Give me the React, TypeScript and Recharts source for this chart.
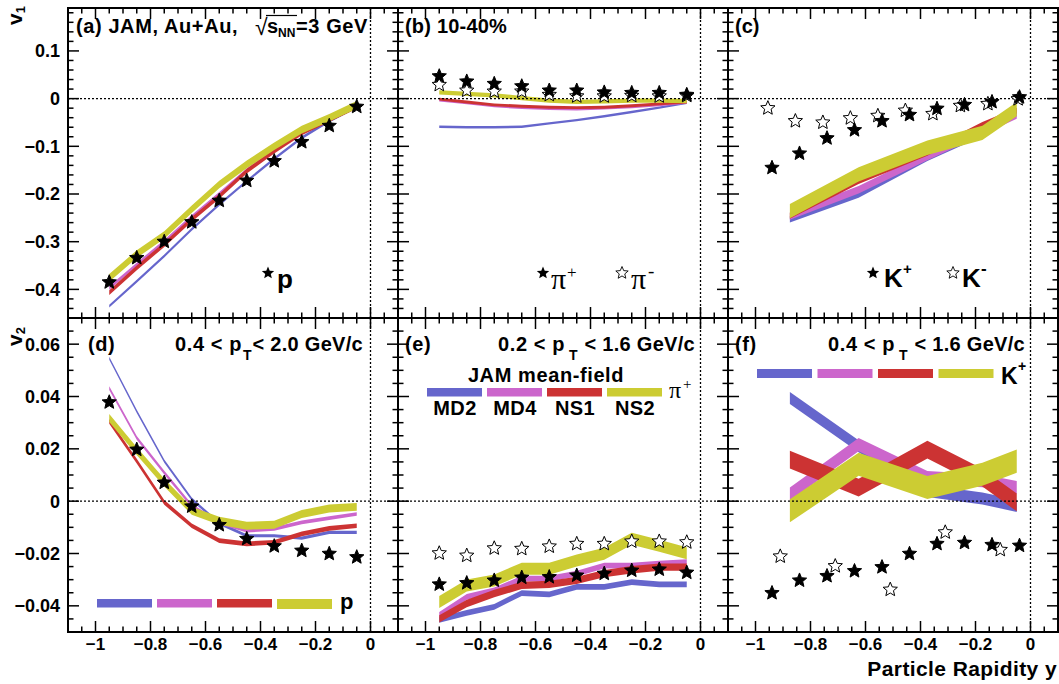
import React from 'react';
import { ComposedChart, Area, Scatter, XAxis, YAxis, ReferenceLine, ReferenceArea } from 'recharts';

// ---------- data ----------
const rapidityBins = [-0.95, -0.85, -0.75, -0.65, -0.55, -0.45, -0.35, -0.25, -0.15, -0.05];
const kaonPlusBins = [-0.94, -0.84, -0.74, -0.64, -0.54, -0.44, -0.34, -0.24, -0.14, -0.04];
const kaonMinusBinsV1 = [-0.955, -0.855, -0.755, -0.655, -0.555, -0.455, -0.355, -0.255, -0.155, -0.045];
const kaonMinusBinsV2 = [-0.91, -0.71, -0.51, -0.31, -0.11];
const kaonModelBins = [-0.875, -0.625, -0.375, -0.175, -0.05];

const modelNames = ['MD2', 'MD4', 'NS1', 'NS2'];
const modelColors = ['#6666cc', '#cc66cc', '#cc3333', '#cccc33'];

// (a) proton v1
const protonV1 = [-0.385, -0.334, -0.300, -0.259, -0.214, -0.172, -0.131, -0.091, -0.057, -0.017];
const aMD2 = [-0.435, -0.383, -0.330, -0.274, -0.222, -0.173, -0.126, -0.082, -0.047, -0.017];
const aMD4 = [-0.397, -0.348, -0.300, -0.248, -0.200, -0.150, -0.108, -0.070, -0.042, -0.015];
const aNS1 = [-0.407, -0.355, -0.306, -0.253, -0.205, -0.152, -0.110, -0.072, -0.044, -0.016];
const aNS2 = [-0.376, -0.326, -0.286, -0.232, -0.180, -0.138, -0.100, -0.065, -0.040, -0.013];
const aBand = [0.003, 0.004, 0.005, 0.008];

// (b) pion v1
const piPlusV1 = [0.047, 0.036, 0.031, 0.026, 0.017, 0.017, 0.013, 0.012, 0.012, 0.008];
const piMinusV1 = [0.029, 0.017, 0.015, 0.015, 0.008, 0.005, 0.005, 0.006, 0.005, 0.006];
const bMD2 = [-0.059, -0.060, -0.060, -0.059, -0.052, -0.045, -0.037, -0.028, -0.019, -0.009];
const bMD4 = [-0.003, -0.009, -0.015, -0.019, -0.021, -0.022, -0.020, -0.017, -0.013, -0.008];
const bNS1 = [-0.001, -0.007, -0.013, -0.016, -0.018, -0.019, -0.018, -0.015, -0.011, -0.007];
const bNS2 = [0.013, 0.010, 0.007, 0.001, -0.004, -0.007, -0.006, -0.004, -0.004, -0.005];
const bBand = [0.0025, 0.003, 0.003, 0.0045];

// (c) kaon v1
const kPlusV1 = [-0.145, -0.115, -0.083, -0.066, -0.047, -0.034, -0.021, -0.013, -0.007, 0.003];
const kMinusV1 = [-0.020, -0.047, -0.050, -0.041, -0.036, -0.025, -0.032, -0.015, -0.011, -0.001];
const cMD2 = [-0.253, -0.201, -0.124, -0.072, -0.030];
const cMD4 = [-0.246, -0.191, -0.121, -0.068, -0.034];
const cNS1 = [-0.246, -0.173, -0.114, -0.055, -0.025];
const cNS2 = [-0.236, -0.159, -0.103, -0.072, -0.022];
const cBand = [0.007, 0.008, 0.006, 0.015];

// (d) proton v2
const protonV2 = [0.0378, 0.0197, 0.0071, -0.0020, -0.0091, -0.0144, -0.0172, -0.0189, -0.0201, -0.0214];
const dMD2 = [0.0546, 0.0343, 0.0153, 0.0008, -0.0085, -0.0132, -0.0132, -0.0141, -0.0119, -0.0119];
const dMD4 = [0.0432, 0.0242, 0.0109, -0.0018, -0.0081, -0.0113, -0.0106, -0.0081, -0.0065, -0.0049];
const dNS1 = [0.0305, 0.0153, -0.0005, -0.0094, -0.0151, -0.0163, -0.0157, -0.0125, -0.0104, -0.0094];
const dNS2 = [0.0318, 0.0191, 0.0071, -0.0037, -0.0075, -0.0094, -0.0090, -0.0049, -0.0028, -0.0022];
const dBand = [0.0006, 0.0007, 0.0009, 0.0015];

// (e) pion v2
const piPlusV2 = [-0.0318, -0.0313, -0.0303, -0.0292, -0.0290, -0.0284, -0.0277, -0.0265, -0.0261, -0.0273];
const piMinusV2 = [-0.0199, -0.0208, -0.0180, -0.0182, -0.0173, -0.0163, -0.0163, -0.0154, -0.0154, -0.0157];
const eMD2 = [-0.0454, -0.0427, -0.0404, -0.0351, -0.0356, -0.0328, -0.0328, -0.0309, -0.0318, -0.0318];
const eMD4 = [-0.0435, -0.0366, -0.0341, -0.0296, -0.0296, -0.0277, -0.0246, -0.0246, -0.0239, -0.0233];
const eNS1 = [-0.0450, -0.0391, -0.0353, -0.0322, -0.0318, -0.0303, -0.0277, -0.0262, -0.0252, -0.0252];
const eNS2 = [-0.0385, -0.0322, -0.0303, -0.0258, -0.0258, -0.0227, -0.0201, -0.0144, -0.0170, -0.0199];
const eBand = [0.0011, 0.0011, 0.0014, 0.0023];

// (f) kaon v2
const kPlusV2 = [-0.0351, -0.0303, -0.0286, -0.0267, -0.0252, -0.0201, -0.0163, -0.0159, -0.0167, -0.0170];
const kMinusV2 = [-0.0211, -0.0248, -0.0338, -0.0119, -0.0186];
const fMD2 = [0.0394, 0.0210, 0.0039, 0.0010, -0.0018];
const fMD4 = [0.0027, 0.0216, 0.0090, 0.0078, 0.0052];
const fNS1 = [0.0159, 0.0052, 0.0197, 0.0090, -0.0005];
const fNS2 = [-0.0037, 0.0141, 0.0052, 0.0103, 0.0153];
const fBand = [0.0023, 0.0025, 0.0034, 0.0044];

// ticks
const xTicks = [-1.05, -1, -0.95, -0.9, -0.85, -0.8, -0.75, -0.7, -0.65, -0.6, -0.55, -0.5, -0.45, -0.4, -0.35, -0.3, -0.25, -0.2, -0.15, -0.1, -0.05, 0, 0.05];
const v1Ticks = [0.18, 0.16, 0.14, 0.12, 0.1, 0.08, 0.06, 0.04, 0.02, 0, -0.02, -0.04, -0.06, -0.08, -0.1, -0.12, -0.14, -0.16, -0.18, -0.2, -0.22, -0.24, -0.26, -0.28, -0.3, -0.32, -0.34, -0.36, -0.38, -0.4, -0.42, -0.44];
const v2Ticks = [0.065, 0.06, 0.055, 0.05, 0.045, 0.04, 0.035, 0.03, 0.025, 0.02, 0.015, 0.01, 0.005, 0, -0.005, -0.01, -0.015, -0.02, -0.025, -0.03, -0.035, -0.04, -0.045];
const xDomain = [-1.1, 0.1];
const v1Domain = [-0.46, 0.19];
const v2Domain = [-0.05, 0.07];

// ---------- helpers ----------
const FONT = '"Liberation Sans", Arial, Helvetica, sans-serif';
const SERIF = '"Liberation Serif", "Times New Roman", serif';
const PW = 330;

function starPath(cx: number, cy: number, R: number) {
  const r = R * 0.45;
  let d = '';
  for (let i = 0; i < 10; i++) {
    const a = -Math.PI / 2 + (i * Math.PI) / 5;
    const rad = i % 2 === 0 ? R : r;
    d += (i === 0 ? 'M' : 'L') + (cx + rad * Math.cos(a)).toFixed(2) + ',' + (cy + rad * Math.sin(a)).toFixed(2);
  }
  return d + 'Z';
}

const isMajor = (v: number, step: number) => Math.abs(v / step - Math.round(v / step)) < 1e-6;
const fmt = (v: number, digits: number) => {
  if (Math.abs(v) < 1e-9) return '0';
  const s = digits < 0 ? String(Math.abs(Number(v.toFixed(2)))) : Math.abs(v).toFixed(digits);
  return (v < 0 ? '\u2212' : '') + s;
};

const makeXTick = (plotH: number, showLabels: boolean) => (props: any) => {
  const { x, y, payload } = props;
  const v = payload.value;
  const maj = isMajor(v, 0.2);
  const len = maj ? 11 : 5.5;
  return (
    <g>
      <line x1={x} x2={x} y1={y} y2={y - len} stroke="#000" strokeWidth={1.5} />
      <line x1={x} x2={x} y1={y - plotH} y2={y - plotH + len} stroke="#000" strokeWidth={1.5} />
      {showLabels && maj ? (
        <text x={x} y={y + 18} textAnchor="middle" fontFamily={FONT} fontWeight="bold" fontSize={17} fill="#000">
          {fmt(v, -1)}
        </text>
      ) : null}
    </g>
  );
};

const makeYTick = (step: number, digits: number, showLabels: boolean) => (props: any) => {
  const { x, y, payload } = props;
  const v = payload.value;
  const maj = isMajor(v, step);
  const len = maj ? 11 : 5.5;
  return (
    <g>
      <line x1={x} x2={x + len} y1={y} y2={y} stroke="#000" strokeWidth={1.5} />
      <line x1={x + PW} x2={x + PW - len} y1={y} y2={y} stroke="#000" strokeWidth={1.5} />
      {showLabels && maj ? (
        <text x={x - 8} y={y} dy="0.36em" textAnchor="end" fontFamily={FONT} fontWeight="bold" fontSize={18} fill="#000">
          {fmt(v, digits)}
        </text>
      ) : null}
    </g>
  );
};

type StarSet = { xs: number[]; ys: number[]; open: boolean };

type PanelProps = {
  left: number;
  top: number;
  h: number;
  yDomain: number[];
  yTicks: number[];
  yStep: number;
  yDigits: number;
  showY: boolean;
  showX: boolean;
  bins: number[];
  models: number[][];
  band: number[];
  stars: StarSet[];
};

function Panel(p: PanelProps) {
  const table = p.bins.map((x, i) => {
    const row: any = { x };
    modelNames.forEach((m, k) => {
      row[m] = [p.models[k][i] - p.band[k], p.models[k][i] + p.band[k]];
    });
    return row;
  });
  return (
    <div style={{ position: 'absolute', left: p.left - 60, top: p.top - 10 }}>
      <ComposedChart width={400} height={p.h + 50} data={table} margin={{ top: 10, right: 10, left: 0, bottom: 0 }}>
        <XAxis
          type="number"
          dataKey="x"
          domain={xDomain}
          allowDataOverflow
          ticks={xTicks}
          interval={0}
          tickSize={0}
          tickMargin={0}
          axisLine={false}
          tickLine={false}
          height={40}
          tick={makeXTick(p.h, p.showX)}
        />
        <YAxis
          type="number"
          domain={p.yDomain}
          allowDataOverflow
          ticks={p.yTicks}
          interval={0}
          tickSize={0}
          tickMargin={0}
          axisLine={false}
          tickLine={false}
          width={60}
          tick={makeYTick(p.yStep, p.yDigits, p.showY)}
        />
        <ReferenceLine y={0} stroke="#000" strokeWidth={1.3} strokeDasharray="2 2" />
        <ReferenceLine x={0} stroke="#000" strokeWidth={1.3} strokeDasharray="2 2" />
        {modelNames.map((m, k) => (
          <Area
            key={m}
            type="linear"
            dataKey={m}
            stroke="none"
            fill={modelColors[k]}
            fillOpacity={1}
            dot={false}
            activeDot={false}
            isAnimationActive={false}
          />
        ))}
        {p.stars.map((s, k) => (
          <Scatter
            key={'s' + k}
            data={s.xs.map((x, i) => ({ x, y: s.ys[i] }))}
            dataKey="y"
            isAnimationActive={false}
            shape={(sp: any) => (
              <path d={starPath(sp.cx, sp.cy, 7.5)} fill={s.open ? '#fff' : '#000'} stroke="#000" strokeWidth={1} />
            )}
          />
        ))}
        <ReferenceArea x1={xDomain[0]} x2={xDomain[1]} y1={p.yDomain[0]} y2={p.yDomain[1]} fill="none" fillOpacity={0} stroke="#000" strokeWidth={2} />
      </ComposedChart>
    </div>
  );
}

const T = (props: any) => (
  <text fontFamily={FONT} fontWeight="bold" fill="#000" {...props} />
);

function Overlay() {
  const legendBar = (x: number, y: number, w: number, h: number, c: string, key: string) => (
    <rect key={key} x={x} y={y} width={w} height={h} fill={c} />
  );
  const LS = 0.6;
  return (
    <svg width={1059} height={684} style={{ position: 'absolute', left: 0, top: 0, pointerEvents: 'none' }}>
      {/* axis titles */}
      <T transform="translate(22,25) rotate(-90)" fontSize={21}>
        v<tspan fontSize={13} dy={3}>1</tspan>
      </T>
      <T transform="translate(22,346) rotate(-90)" fontSize={21}>
        v<tspan fontSize={13} dy={3}>2</tspan>
      </T>
      <T x={1057} y={676} fontSize={21} textAnchor="end" letterSpacing={0.4}>Particle Rapidity y</T>

      {/* (a) */}
      <T x={76} y={33} fontSize={20} letterSpacing={LS}>(a) JAM, Au+Au,</T>
      <text x={255} y={35} fontSize={23} fontFamily={FONT} fill="#000">√</text>
      <line x1={266} x2={297} y1={15.5} y2={15.5} stroke="#000" strokeWidth={1.2} />
      <T x={267} y={33} fontSize={20}>s</T>
      <T x={278} y={37} fontSize={12}>NN</T>
      <T x={296} y={33} fontSize={20} letterSpacing={LS}>=3 GeV</T>
      <path d={starPath(268, 273, 6.5)} fill="#000" />
      <T x={277} y={288} fontSize={26}>p</T>

      {/* (b) */}
      <T x={405} y={33} fontSize={20} letterSpacing={0.2}>(b) 10-40%</T>
      <path d={starPath(543, 273, 6.5)} fill="#000" />
      <text x={551} y={289} fontSize={30} fontFamily={SERIF} fill="#000">π</text>
      <text x={567} y={278} fontSize={17} fontFamily={SERIF} fill="#000">+</text>
      <path d={starPath(622, 273, 6.5)} fill="#fff" stroke="#000" strokeWidth={0.9} />
      <text x={631} y={289} fontSize={30} fontFamily={SERIF} fill="#000">π</text>
      <text x={648} y={277} fontSize={19} fontFamily={SERIF} fill="#000">-</text>

      {/* (c) */}
      <T x={735} y={33} fontSize={20}>(c)</T>
      <path d={starPath(873, 273, 6.5)} fill="#000" />
      <T x={884} y={287} fontSize={26}>K</T>
      <T x={903} y={274} fontSize={15}>+</T>
      <path d={starPath(953, 273, 6.5)} fill="#fff" stroke="#000" strokeWidth={0.9} />
      <T x={962} y={287} fontSize={26}>K</T>
      <T x={981} y={274} fontSize={17}>-</T>

      {/* (d) */}
      <T x={88} y={351} fontSize={20} letterSpacing={LS}>(d)</T>
      <T x={175} y={351} fontSize={20} letterSpacing={LS}>0.4 &lt; p</T>
      <T x={243} y={360} fontSize={14}>T</T>
      <T x={363} y={351} fontSize={20} textAnchor="end" letterSpacing={0.3}>&lt; 2.0 GeV/c</T>
      {modelColors.map((c, k) => legendBar(97 + k * 60, 599, 55, k === 3 ? 10 : 8.5, c, 'd' + k))}
      <T x={340} y={609} fontSize={22}>p</T>

      {/* (e) */}
      <T x={405} y={351} fontSize={20} letterSpacing={LS}>(e)</T>
      <T x={498} y={351} fontSize={20} letterSpacing={LS}>0.2 &lt; p</T>
      <T x={569} y={360} fontSize={14}>T</T>
      <T x={695} y={351} fontSize={20} textAnchor="end" letterSpacing={0.3}>&lt; 1.6 GeV/c</T>
      <T x={546} y={382} fontSize={20} textAnchor="middle" letterSpacing={LS}>JAM mean-field</T>
      {modelColors.map((c, k) => legendBar(427 + k * 60, 388, 55, 8.5, c, 'e' + k))}
      {modelNames.map((m, k) => (
        <T key={'el' + k} x={455 + k * 60} y={415} fontSize={20} textAnchor="middle" letterSpacing={0.4}>{m}</T>
      ))}
      <text x={669} y={398} fontSize={24} fontFamily={SERIF} fill="#000">π</text>
      <text x={683} y={389} fontSize={15} fontFamily={SERIF} fill="#000">+</text>

      {/* (f) */}
      <T x={735} y={351} fontSize={20} letterSpacing={LS}>(f)</T>
      <T x={828} y={351} fontSize={20} letterSpacing={LS}>0.4 &lt; p</T>
      <T x={899} y={360} fontSize={14}>T</T>
      <T x={1025} y={351} fontSize={20} textAnchor="end" letterSpacing={0.3}>&lt; 1.6 GeV/c</T>
      {modelColors.map((c, k) => legendBar(757 + k * 60.5, 369, 55, 9, c, 'f' + k))}
      <T x={1001} y={384} fontSize={23}>K</T>
      <T x={1018} y={371} fontSize={14}>+</T>
    </svg>
  );
}

export default function App() {
  const colLeft = [68, 398, 728];
  const topRow = { top: 8, h: 310 };
  const botRow = { top: 318, h: 314 };
  return (
    <div style={{ position: 'absolute', left: 0, top: 0, width: 1059, height: 684, background: '#fff', overflow: 'hidden' }}>
      <Panel left={colLeft[0]} top={topRow.top} h={topRow.h} yDomain={v1Domain} yTicks={v1Ticks} yStep={0.1} yDigits={1} showY showX={false}
        bins={rapidityBins} models={[aMD2, aMD4, aNS1, aNS2]} band={aBand}
        stars={[{ xs: rapidityBins, ys: protonV1, open: false }]} />
      <Panel left={colLeft[1]} top={topRow.top} h={topRow.h} yDomain={v1Domain} yTicks={v1Ticks} yStep={0.1} yDigits={1} showY={false} showX={false}
        bins={rapidityBins} models={[bMD2, bMD4, bNS1, bNS2]} band={bBand}
        stars={[{ xs: rapidityBins, ys: piMinusV1, open: true }, { xs: rapidityBins, ys: piPlusV1, open: false }]} />
      <Panel left={colLeft[2]} top={topRow.top} h={topRow.h} yDomain={v1Domain} yTicks={v1Ticks} yStep={0.1} yDigits={1} showY={false} showX={false}
        bins={kaonModelBins} models={[cMD2, cMD4, cNS1, cNS2]} band={cBand}
        stars={[{ xs: kaonMinusBinsV1, ys: kMinusV1, open: true }, { xs: kaonPlusBins, ys: kPlusV1, open: false }]} />
      <Panel left={colLeft[0]} top={botRow.top} h={botRow.h} yDomain={v2Domain} yTicks={v2Ticks} yStep={0.02} yDigits={2} showY showX
        bins={rapidityBins} models={[dMD2, dMD4, dNS1, dNS2]} band={dBand}
        stars={[{ xs: rapidityBins, ys: protonV2, open: false }]} />
      <Panel left={colLeft[1]} top={botRow.top} h={botRow.h} yDomain={v2Domain} yTicks={v2Ticks} yStep={0.02} yDigits={2} showY={false} showX
        bins={rapidityBins} models={[eMD2, eMD4, eNS1, eNS2]} band={eBand}
        stars={[{ xs: rapidityBins, ys: piMinusV2, open: true }, { xs: rapidityBins, ys: piPlusV2, open: false }]} />
      <Panel left={colLeft[2]} top={botRow.top} h={botRow.h} yDomain={v2Domain} yTicks={v2Ticks} yStep={0.02} yDigits={2} showY={false} showX
        bins={kaonModelBins} models={[fMD2, fMD4, fNS1, fNS2]} band={fBand}
        stars={[{ xs: kaonMinusBinsV2, ys: kMinusV2, open: true }, { xs: kaonPlusBins, ys: kPlusV2, open: false }]} />
      <Overlay />
    </div>
  );
}
